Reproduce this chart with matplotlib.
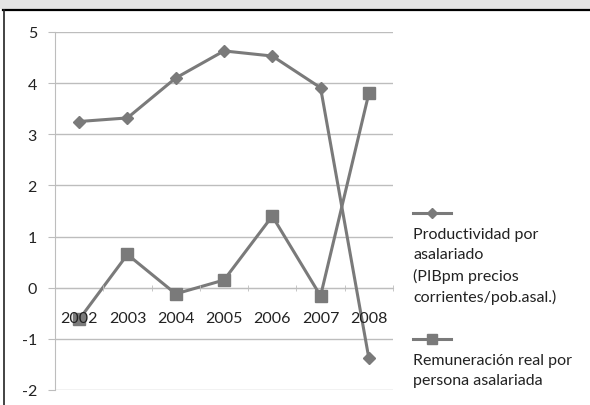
import matplotlib.pyplot as plt
from matplotlib.lines import Line2D
from matplotlib.patches import Rectangle

years = ['2002', '2003', '2004', '2005', '2006', '2007', '2008']
productividad = [3.25, 3.32, 4.1, 4.63, 4.53, 3.91, -1.38]
remuneracion = [-0.62, 0.65, -0.12, 0.15, 1.4, -0.16, 3.8]
label_prod = 'Productividad por\nasalariado\n(PIBpm precios\ncorrientes/pob.asal.)'
label_remu = 'Remuneración real por\npersona asalariada'

W, H = 590, 406
plt.rcParams['font.family'] = ['Lato', 'DejaVu Sans']
plt.rcParams['axes.unicode_minus'] = False
fig = plt.figure(figsize=(W / 100, H / 100), dpi=100)

# grey band on top and black frame
fig.patches.append(Rectangle((0, 1 - 10 / H), 1, 10 / H, transform=fig.transFigure,
                             facecolor='#e4e4e4', edgecolor='none', zorder=0))
fig.add_artist(Line2D([3 / W, 1], [1 - 10.5 / H, 1 - 10.5 / H], color='black', lw=1.6))
fig.add_artist(Line2D([3.5 / W, 3.5 / W], [0, 1 - 10.5 / H], color='#222222', lw=1.2))

ax = fig.add_axes([55 / W, 1 - 391 / H, (393 - 55) / W, (391 - 33) / H])
x = list(range(len(years)))
grey = '#7a7a7a'
ax.plot(x, productividad, color=grey, lw=2.2, marker='D', markersize=6,
        markerfacecolor=grey, markeredgecolor=grey, zorder=3)
ax.plot(x, remuneracion, color=grey, lw=2.2, marker='s', markersize=8,
        markerfacecolor=grey, markeredgecolor=grey, zorder=3)

ax.set_xlim(-0.5, len(years) - 0.5)
ax.set_ylim(-2, 5)
ax.set_yticks(range(-2, 6))
ax.yaxis.grid(True, color='#bdbdbd', lw=1.0)
ax.set_axisbelow(True)
ax.xaxis.set_zorder(4)  # year labels sit on top of the markers, like the original

for s in ['top', 'right']:
    ax.spines[s].set_visible(False)
ax.spines['left'].set_color('#bdbdbd')
ax.spines['bottom'].set_position(('data', 0))
ax.spines['bottom'].set_color('#bdbdbd')

ax.set_xticks(x)
ax.set_xticklabels(years)
ax.set_xticks([i + 0.5 for i in range(-1, len(years))], minor=True)
ax.tick_params(axis='x', which='major', length=0, pad=17, labelsize=11.5, labelcolor='#222222')
ax.tick_params(axis='x', which='minor', length=4, color='#bdbdbd', direction='inout')
ax.tick_params(axis='y', length=5, color='#bdbdbd', pad=8, labelsize=11.5, labelcolor='#222222')

# legend drawn Excel-style: sample line above the text
def legend_entry(y_line, marker, ms, text, y_text):
    ly = 1 - y_line / H
    fig.add_artist(Line2D([413 / W, 451 / W], [ly, ly], color=grey, lw=2.2))
    fig.add_artist(Line2D([432 / W], [ly], color=grey, marker=marker, markersize=ms,
                          markerfacecolor=grey, markeredgecolor=grey))
    fig.text(413 / W, 1 - y_text / H, text, ha='left', va='top', fontsize=11.5,
             color='#222222', linespacing=1.55)

legend_entry(214, 'D', 5, label_prod, 228)
legend_entry(340, 's', 7, label_remu, 354)

fig.savefig('out.png', dpi=100, facecolor='white')
